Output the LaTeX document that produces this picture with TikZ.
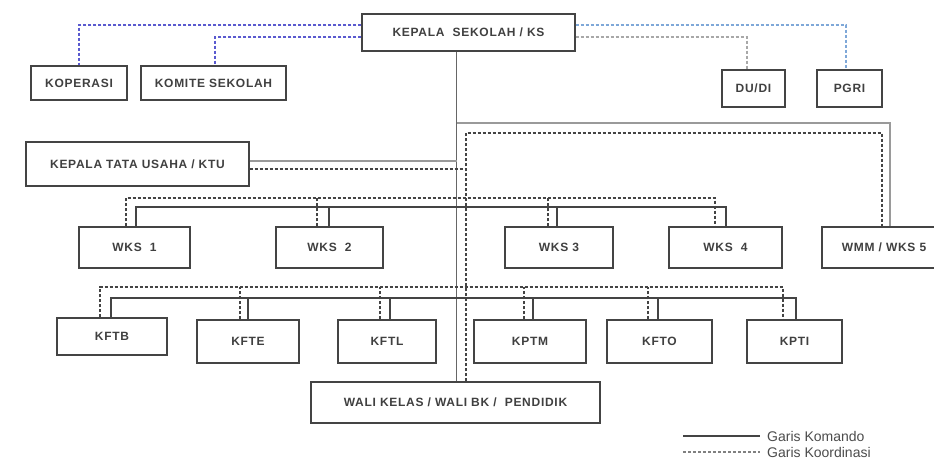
\documentclass[tikz,border=0pt]{standalone}
\usepackage{fontspec}
\setmainfont{Liberation Sans}
\newfontfamily\boxfont[LetterSpace=6]{Liberation Sans}
\definecolor{ln}{HTML}{444444}
\definecolor{lt}{HTML}{9A9A9A}
\definecolor{bl1}{HTML}{5A5ACF}
\definecolor{bl2}{HTML}{7FA8D8}
\definecolor{gr2}{HTML}{A8A8A8}
\begin{document}
\begin{tikzpicture}[x=1pt,y=-1pt,
  box/.style={draw=ln,line width=1.1pt,fill=white,inner sep=0pt,
    font=\boxfont\bfseries\fontsize{12}{13}\selectfont,text=black!75},
  cmd/.style={draw=ln,line width=1.1pt},
  cmdl/.style={draw=lt,line width=2.2pt},
  crd/.style={draw=ln,line width=1.1pt,dash pattern=on 3pt off 2pt},
  crdb/.style={crd,draw=bl1},
  crdl/.style={crd,draw=bl2},
  crdg/.style={crd,draw=gr2},
  leg/.style={anchor=west,inner sep=0pt,font=\fontsize{14}{15}\selectfont,text=black!70}]
\path[use as bounding box,clip] (0,0) rectangle (934,460);
\fill[white] (0,0) rectangle (934,460);

% nodes
\node[box,minimum width=213pt,minimum height=37pt] (KS) at (468.5,32.5) {KEPALA\ \ SEKOLAH / KS};
\node[box,minimum width=96pt,minimum height=34pt] (KOP) at (79,83) {KOPERASI};
\node[box,minimum width=145pt,minimum height=34pt] (KOM) at (213.5,83) {KOMITE SEKOLAH};
\node[box,minimum width=63pt,minimum height=37pt] (DUDI) at (753.5,88.5) {DU/DI};
\node[box,minimum width=65pt,minimum height=37pt] (PGRI) at (849.5,88.5) {PGRI};
\node[box,minimum width=223pt,minimum height=44pt] (KTU) at (137.5,164) {KEPALA TATA USAHA / KTU};
\node[box,minimum width=111pt,minimum height=41pt] (W1) at (134.5,247.5) {WKS\ \ 1};
\node[box,minimum width=107pt,minimum height=41pt] (W2) at (329.5,247.5) {WKS\ \ 2};
\node[box,minimum width=108pt,minimum height=41pt] (W3) at (559,247.5) {WKS 3};
\node[box,minimum width=113pt,minimum height=41pt] (W4) at (725.5,247.5) {WKS\ \ 4};
\node[box,minimum width=124pt,minimum height=41pt] (W5) at (884,247.5) {WMM / WKS 5};
\node[box,minimum width=110pt,minimum height=37pt] (KFTB) at (112,336.5) {KFTB};
\node[box,minimum width=102pt,minimum height=43pt] (KFTE) at (248,341.5) {KFTE};
\node[box,minimum width=98pt,minimum height=43pt] (KFTL) at (387,341.5) {KFTL};
\node[box,minimum width=112pt,minimum height=43pt] (KPTM) at (530,341.5) {KPTM};
\node[box,minimum width=105pt,minimum height=43pt] (KFTO) at (659.5,341.5) {KFTO};
\node[box,minimum width=95pt,minimum height=43pt] (KPTI) at (794.5,341.5) {KPTI};
\node[box,minimum width=289pt,minimum height=41pt] (WALI) at (455.5,402.5) {WALI KELAS / WALI BK /\ \ PENDIDIK};

% helper coordinates
\coordinate (sp) at (456.5,0);
\coordinate (cd) at (466,0);

% top coordination lines
\draw[crdb] (KS.west |- 0,25) -| (KOP.north);
\draw[crdb] (KS.west |- 0,37) -| (KOM.north -| 215,0);
\draw[crdl] (KS.east |- 0,25) -| (PGRI.north -| 846,0);
\draw[crdg] (KS.east |- 0,37) -| (DUDI.north -| 747,0);

% command lines
\draw[cmd,line width=1.6pt,draw=black!60] (KS.south -| sp) -- (WALI.north -| sp);
\draw[cmdl] (KTU.east |- 0,161) -- (sp |- 0,161);
\draw[cmdl] (sp |- 0,123) -- (890,123) -- (W5.north -| 890,0);
\draw[cmd] (W1.north -| 136,0) -- (136,207) -- (726,207) -- (W4.north -| 726,0);
\draw[cmd] (W2.north -| 329,0) -- (329,207);
\draw[cmd] (W3.north -| 557,0) -- (557,207);
\draw[cmd] (KFTB.north -| 111,0) -- (111,298) -- (796,298) -- (KPTI.north -| 796,0);
\draw[cmd] (KFTE.north -| 248,0) -- (248,298);
\draw[cmd] (KFTL.north -| 390,0) -- (390,298);
\draw[cmd] (KPTM.north -| 533,0) -- (533,298);
\draw[cmd] (KFTO.north -| 658,0) -- (658,298);

% coordination lines
\draw[crd] (KTU.east |- 0,169) -- (cd |- 0,169);
\draw[crd] (WALI.north -| cd) -- (466,133) -- (882,133) -- (W5.north -| 882,0);
\draw[crd] (W1.north -| 126,0) -- (126,198) -- (715,198) -- (W4.north -| 715,0);
\draw[crd] (W2.north -| 317,0) -- (317,198);
\draw[crd] (W3.north -| 548,0) -- (548,198);
\draw[crd] (KFTB.north -| 100,0) -- (100,287) -- (783,287) -- (KPTI.north -| 783,0);
\draw[crd] (KFTE.north -| 240,0) -- (240,287);
\draw[crd] (KFTL.north -| 380,0) -- (380,287);
\draw[crd] (KPTM.north -| 524,0) -- (524,287);
\draw[crd] (KFTO.north -| 648,0) -- (648,287);

% legend
\coordinate (l1a) at (683,436);
\coordinate (l2a) at (683,452);
\node[leg] (t1) at (767,436) {Garis Komando};
\node[leg] (t2) at (767,452) {Garis Koordinasi};
\draw[cmd] (l1a) -- (t1.west -| 760,0);
\draw[crd,draw=gray] (l2a) -- (t2.west -| 760,0);
\end{tikzpicture}
\end{document}
